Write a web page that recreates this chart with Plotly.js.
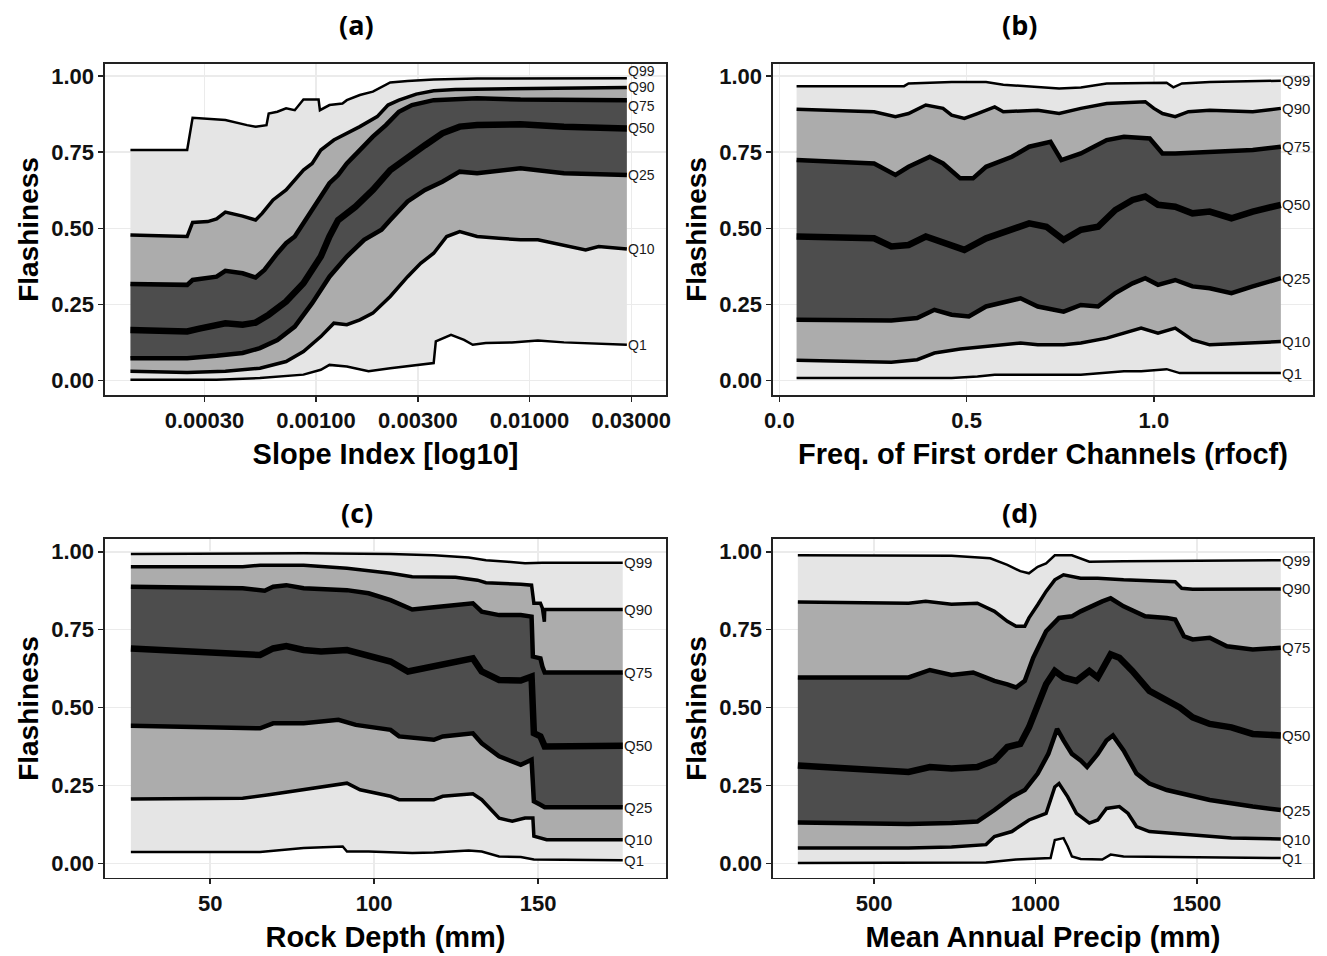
<!DOCTYPE html>
<html>
<head>
<meta charset="utf-8">
<script src="https://cdn.plot.ly/plotly-3.0.1.min.js"></script>
<style>html,body{margin:0;padding:0;background:#fff;}#chart{width:1327px;height:956px;}</style>
</head>
<body>
<div id="chart"></div>
<script>
// ---------- labels ----------
const quantileLabels = ['Q1', 'Q10', 'Q25', 'Q50', 'Q75', 'Q90', 'Q99'];
const panelTitles = ['(a)', '(b)', '(c)', '(d)'];
const xTitles = ['Slope Index [log10]', 'Freq. of First order Channels (rfocf)', 'Rock Depth (mm)', 'Mean Annual Precip (mm)'];
const yTitle = 'Flashiness';
const yTickVals = [0, 0.25, 0.5, 0.75, 1];
const slopeTickVals = [0.0003, 0.001, 0.003, 0.01, 0.03];
const slopeTickText = ['0.00030', '0.00100', '0.00300', '0.01000', '0.03000'];
const rfocfTickVals = [0, 0.5, 1.0];
const rockTickVals = [50, 100, 150];
const precipTickVals = [500, 1000, 1500];

// ---------- panel (a): Slope Index ----------
const aX1 = [0.000135, 0.000342, 0.000546, 0.000873, 0.001053, 0.001156, 0.001394, 0.001762, 0.002227, 0.003558, 0.003642, 0.004291, 0.004939, 0.005424, 0.006243, 0.00827, 0.010952, 0.014506, 0.02861];
const aQ1 = [0.002, 0.002, 0.008, 0.019, 0.035, 0.051, 0.046, 0.030, 0.040, 0.057, 0.128, 0.150, 0.133, 0.117, 0.123, 0.125, 0.131, 0.125, 0.117];
const aX10 = [0.000135, 0.000249, 0.000376, 0.000546, 0.000724, 0.000873, 0.001053, 0.001212, 0.001394, 0.001604, 0.001846, 0.002227, 0.002686, 0.003092, 0.003558, 0.004095, 0.004713, 0.005685, 0.007185, 0.009079, 0.010952, 0.014506, 0.018335, 0.0211, 0.02861];
const aQ10 = [0.030, 0.026, 0.030, 0.040, 0.062, 0.095, 0.144, 0.188, 0.183, 0.199, 0.221, 0.276, 0.341, 0.385, 0.418, 0.473, 0.489, 0.473, 0.467, 0.462, 0.462, 0.445, 0.429, 0.440, 0.432];
const aX25 = [0.000135, 0.000249, 0.000342, 0.000453, 0.000546, 0.000659, 0.000795, 0.000959, 0.001156, 0.001394, 0.001681, 0.002027, 0.002227, 0.002686, 0.00324, 0.003907, 0.004713, 0.005685, 0.009079, 0.014506, 0.02861];
const aQ25 = [0.073, 0.073, 0.081, 0.090, 0.106, 0.133, 0.177, 0.254, 0.341, 0.407, 0.462, 0.495, 0.527, 0.588, 0.626, 0.653, 0.686, 0.681, 0.697, 0.681, 0.675];
const aX50 = [0.000135, 0.000249, 0.000284, 0.000376, 0.000453, 0.000521, 0.0006, 0.000724, 0.000873, 0.001053, 0.001156, 0.001269, 0.001531, 0.001846, 0.002227, 0.002686, 0.00324, 0.003907, 0.004713, 0.005685, 0.009079, 0.014506, 0.02861];
const aQ50 = [0.166, 0.161, 0.170, 0.188, 0.183, 0.190, 0.216, 0.259, 0.319, 0.407, 0.473, 0.527, 0.571, 0.626, 0.691, 0.735, 0.773, 0.812, 0.834, 0.839, 0.842, 0.834, 0.828];
const aX75 = [0.000135, 0.000249, 0.000264, 0.000342, 0.000376, 0.000453, 0.000521, 0.000573, 0.000659, 0.000724, 0.000795, 0.000873, 0.000959, 0.001053, 0.001156, 0.001269, 0.001394, 0.001604, 0.001846, 0.002125, 0.002445, 0.002815, 0.003558, 0.005685, 0.009079, 0.02861];
const aQ75 = [0.317, 0.314, 0.330, 0.341, 0.360, 0.352, 0.338, 0.363, 0.418, 0.451, 0.473, 0.516, 0.560, 0.604, 0.648, 0.675, 0.713, 0.757, 0.801, 0.839, 0.883, 0.905, 0.921, 0.927, 0.923, 0.921];
const aX90 = [0.000135, 0.000249, 0.000264, 0.000311, 0.000342, 0.000376, 0.000453, 0.000521, 0.000559, 0.000629, 0.000724, 0.000795, 0.000873, 0.000959, 0.001053, 0.001212, 0.001394, 0.001604, 0.001935, 0.002175, 0.002445, 0.00295, 0.003558, 0.004498, 0.02861];
const aQ90 = [0.478, 0.473, 0.519, 0.522, 0.531, 0.553, 0.540, 0.527, 0.549, 0.593, 0.626, 0.659, 0.691, 0.713, 0.757, 0.790, 0.812, 0.834, 0.867, 0.905, 0.921, 0.941, 0.952, 0.956, 0.963];
const aX99 = [0.000135, 0.000249, 0.000264, 0.000376, 0.000475, 0.000521, 0.000586, 0.0006, 0.000659, 0.000724, 0.000795, 0.000873, 0.001028, 0.001043, 0.001156, 0.00133, 0.001394, 0.001604, 0.001846, 0.002125, 0.002227, 0.002686, 0.003558, 0.005685, 0.02861];
const aQ99 = [0.757, 0.757, 0.863, 0.856, 0.839, 0.834, 0.839, 0.877, 0.883, 0.894, 0.888, 0.923, 0.923, 0.888, 0.905, 0.910, 0.921, 0.938, 0.949, 0.970, 0.979, 0.984, 0.989, 0.992, 0.993];

// ---------- panel (b): rfocf ----------
const bX1 = [0.046, 0.460, 0.529, 0.575, 0.690, 0.805, 0.920, 0.966, 1.034, 1.069, 1.339];
const bQ1 = [0.008, 0.008, 0.013, 0.019, 0.019, 0.019, 0.030, 0.030, 0.037, 0.024, 0.024];
const bX10 = [0.046, 0.299, 0.368, 0.414, 0.483, 0.552, 0.644, 0.690, 0.759, 0.805, 0.874, 0.966, 1.011, 1.057, 1.103, 1.149, 1.264, 1.339];
const bQ10 = [0.066, 0.060, 0.068, 0.090, 0.103, 0.112, 0.123, 0.117, 0.117, 0.123, 0.139, 0.172, 0.155, 0.172, 0.133, 0.117, 0.123, 0.128];
const bX25 = [0.046, 0.299, 0.368, 0.414, 0.460, 0.506, 0.552, 0.644, 0.690, 0.759, 0.805, 0.851, 0.897, 0.943, 0.977, 1.011, 1.057, 1.103, 1.149, 1.207, 1.264, 1.339];
const bQ25 = [0.199, 0.197, 0.205, 0.232, 0.216, 0.210, 0.243, 0.270, 0.243, 0.226, 0.248, 0.243, 0.287, 0.319, 0.336, 0.314, 0.330, 0.309, 0.303, 0.287, 0.309, 0.336];
const bX50 = [0.046, 0.253, 0.299, 0.345, 0.391, 0.437, 0.494, 0.552, 0.609, 0.667, 0.713, 0.759, 0.805, 0.851, 0.897, 0.943, 0.977, 1.011, 1.057, 1.103, 1.149, 1.207, 1.264, 1.339];
const bQ50 = [0.473, 0.467, 0.440, 0.445, 0.473, 0.451, 0.429, 0.467, 0.489, 0.516, 0.505, 0.462, 0.495, 0.505, 0.560, 0.593, 0.604, 0.577, 0.571, 0.549, 0.555, 0.533, 0.555, 0.577];
const bX75 = [0.046, 0.253, 0.310, 0.345, 0.402, 0.437, 0.483, 0.517, 0.552, 0.621, 0.667, 0.724, 0.753, 0.805, 0.874, 0.920, 0.989, 1.023, 1.057, 1.149, 1.264, 1.339];
const bQ75 = [0.724, 0.713, 0.675, 0.702, 0.735, 0.713, 0.664, 0.664, 0.702, 0.735, 0.768, 0.784, 0.724, 0.746, 0.790, 0.801, 0.795, 0.746, 0.746, 0.752, 0.757, 0.768];
const bX90 = [0.046, 0.253, 0.310, 0.345, 0.391, 0.437, 0.460, 0.494, 0.529, 0.575, 0.598, 0.690, 0.747, 0.805, 0.874, 0.977, 1.000, 1.023, 1.057, 1.092, 1.149, 1.264, 1.339];
const bQ90 = [0.891, 0.883, 0.867, 0.877, 0.905, 0.894, 0.872, 0.861, 0.877, 0.899, 0.883, 0.888, 0.877, 0.894, 0.910, 0.916, 0.894, 0.877, 0.867, 0.883, 0.888, 0.883, 0.894];
const bX99 = [0.046, 0.333, 0.345, 0.460, 0.552, 0.598, 0.747, 0.805, 0.874, 1.034, 1.052, 1.075, 1.149, 1.339];
const bQ99 = [0.967, 0.967, 0.976, 0.981, 0.981, 0.972, 0.959, 0.963, 0.976, 0.978, 0.963, 0.976, 0.981, 0.985];

// ---------- panel (c): Rock Depth ----------
const cX1 = [25.8, 65.2, 78.5, 90.4, 91.7, 98.3, 111.6, 118.2, 128.8, 132.8, 138.1, 144.7, 148.7, 175.8];
const cQ1 = [0.037, 0.037, 0.050, 0.055, 0.039, 0.039, 0.034, 0.036, 0.042, 0.039, 0.023, 0.021, 0.013, 0.011];
const cX10 = [25.8, 59.9, 67.9, 78.5, 89.1, 91.7, 95.7, 105.0, 107.6, 118.2, 120.9, 130.1, 132.8, 138.1, 142.1, 146.0, 148.4, 148.7, 152.6, 175.8];
const cQ10 = [0.207, 0.210, 0.221, 0.237, 0.253, 0.258, 0.237, 0.216, 0.205, 0.205, 0.216, 0.224, 0.205, 0.146, 0.136, 0.146, 0.146, 0.088, 0.077, 0.077];
const cX25 = [25.8, 65.2, 69.2, 78.5, 89.1, 94.4, 105.0, 107.6, 118.2, 120.9, 130.1, 132.8, 138.1, 144.7, 148.0, 148.7, 150.7, 152.0, 175.8];
const cQ25 = [0.442, 0.434, 0.450, 0.450, 0.461, 0.445, 0.429, 0.408, 0.397, 0.408, 0.418, 0.386, 0.344, 0.317, 0.333, 0.200, 0.189, 0.181, 0.181];
const cX50 = [25.8, 65.2, 69.2, 73.2, 78.5, 83.8, 91.7, 98.3, 105.0, 110.3, 118.2, 124.8, 130.1, 132.8, 138.1, 144.7, 148.0, 148.7, 150.7, 152.0, 175.8];
const cQ50 = [0.690, 0.669, 0.690, 0.698, 0.685, 0.680, 0.685, 0.669, 0.648, 0.616, 0.632, 0.645, 0.658, 0.616, 0.589, 0.587, 0.600, 0.418, 0.408, 0.376, 0.378];
const cX75 = [25.8, 59.9, 66.6, 69.2, 73.2, 78.5, 91.7, 98.3, 105.0, 111.6, 118.2, 124.8, 130.1, 132.8, 138.1, 144.7, 148.0, 148.4, 150.7, 151.3, 152.0, 175.8];
const cQ75 = [0.888, 0.883, 0.875, 0.888, 0.893, 0.883, 0.877, 0.867, 0.845, 0.815, 0.822, 0.829, 0.835, 0.808, 0.797, 0.797, 0.792, 0.664, 0.658, 0.632, 0.613, 0.613];
const cX90 = [25.8, 59.9, 65.2, 78.5, 91.7, 105.0, 111.6, 124.8, 131.5, 134.1, 144.7, 148.0, 148.7, 150.7, 151.3, 151.9, 152.0, 152.3, 175.8];
const cQ90 = [0.952, 0.952, 0.957, 0.957, 0.947, 0.931, 0.920, 0.918, 0.909, 0.901, 0.896, 0.893, 0.835, 0.835, 0.819, 0.776, 0.815, 0.815, 0.815];
const cX99 = [25.8, 78.5, 105.0, 118.2, 128.8, 134.1, 140.7, 146.0, 151.3, 175.8];
const cQ99 = [0.993, 0.995, 0.993, 0.989, 0.982, 0.973, 0.968, 0.963, 0.965, 0.965];

// ---------- panel (d): Mean Annual Precip ----------
const dX1 = [264, 847, 940, 1047, 1060, 1087, 1100, 1113, 1140, 1207, 1233, 1273, 1760];
const dQ1 = [0.002, 0.004, 0.013, 0.018, 0.076, 0.082, 0.055, 0.023, 0.015, 0.013, 0.029, 0.023, 0.018];
const dX10 = [264, 607, 740, 847, 873, 927, 980, 1033, 1060, 1073, 1100, 1127, 1167, 1193, 1220, 1260, 1287, 1313, 1353, 1473, 1607, 1760];
const dQ10 = [0.050, 0.050, 0.053, 0.061, 0.087, 0.103, 0.140, 0.161, 0.246, 0.257, 0.214, 0.161, 0.130, 0.140, 0.177, 0.183, 0.161, 0.119, 0.103, 0.092, 0.082, 0.079];
const dX25 = [264, 607, 740, 820, 873, 927, 967, 1007, 1040, 1067, 1087, 1113, 1140, 1160, 1193, 1220, 1240, 1273, 1313, 1353, 1407, 1473, 1540, 1673, 1760];
const dQ25 = [0.132, 0.127, 0.130, 0.135, 0.172, 0.214, 0.236, 0.289, 0.352, 0.432, 0.395, 0.352, 0.331, 0.310, 0.352, 0.395, 0.411, 0.363, 0.289, 0.257, 0.236, 0.220, 0.204, 0.183, 0.172];
const dX50 = [264, 607, 673, 740, 820, 873, 913, 953, 980, 1007, 1033, 1060, 1087, 1127, 1167, 1193, 1220, 1233, 1260, 1300, 1353, 1407, 1447, 1487, 1540, 1607, 1673, 1760];
const dQ50 = [0.315, 0.294, 0.310, 0.305, 0.310, 0.331, 0.374, 0.384, 0.437, 0.501, 0.575, 0.618, 0.597, 0.586, 0.618, 0.597, 0.650, 0.671, 0.660, 0.618, 0.554, 0.522, 0.501, 0.469, 0.448, 0.437, 0.416, 0.411];
const dX75 = [264, 607, 673, 740, 807, 873, 913, 940, 967, 993, 1033, 1073, 1113, 1140, 1207, 1233, 1273, 1340, 1407, 1433, 1460, 1487, 1540, 1593, 1673, 1760];
const dQ75 = [0.597, 0.597, 0.621, 0.605, 0.613, 0.586, 0.575, 0.565, 0.586, 0.660, 0.745, 0.788, 0.793, 0.809, 0.841, 0.851, 0.825, 0.793, 0.788, 0.783, 0.729, 0.719, 0.724, 0.697, 0.687, 0.692];
const dX90 = [264, 607, 660, 740, 820, 873, 913, 940, 967, 980, 1007, 1033, 1060, 1087, 1140, 1193, 1273, 1340, 1433, 1453, 1487, 1760];
const dQ90 = [0.839, 0.835, 0.841, 0.832, 0.835, 0.809, 0.777, 0.761, 0.761, 0.788, 0.830, 0.873, 0.910, 0.926, 0.915, 0.915, 0.910, 0.907, 0.904, 0.883, 0.880, 0.881];
const dX99 = [264, 740, 860, 913, 953, 980, 1007, 1033, 1060, 1113, 1167, 1273, 1760];
const dQ99 = [0.989, 0.987, 0.979, 0.958, 0.938, 0.931, 0.952, 0.963, 0.989, 0.989, 0.968, 0.970, 0.973];

// ---------- styling ----------
const bandColors = ['#e5e5e5', '#acacac', '#4d4d4d', '#4d4d4d', '#acacac', '#e5e5e5'];
const lineWidths = [2.5, 3.5, 4.5, 6.5, 4.5, 3.5, 2.5];
const FONT = 'Liberation Sans, Arial, sans-serif';

const panels = [
  {xs: [aX1, aX10, aX25, aX50, aX75, aX90, aX99], ys: [aQ1, aQ10, aQ25, aQ50, aQ75, aQ90, aQ99], xa: 'x', ya: 'y', log: true, shifts: [0, 0, 0, 0, -6, 0, 7], lsize: 14},
  {xs: [bX1, bX10, bX25, bX50, bX75, bX90, bX99], ys: [bQ1, bQ10, bQ25, bQ50, bQ75, bQ90, bQ99], xa: 'x2', ya: 'y2', log: false, shifts: [0, 0, 0, 0, 0, 0, 0], lsize: 15},
  {xs: [cX1, cX10, cX25, cX50, cX75, cX90, cX99], ys: [cQ1, cQ10, cQ25, cQ50, cQ75, cQ90, cQ99], xa: 'x3', ya: 'y3', log: false, shifts: [0, 0, 0, 0, 0, 0, 0], lsize: 15},
  {xs: [dX1, dX10, dX25, dX50, dX75, dX90, dX99], ys: [dQ1, dQ10, dQ25, dQ50, dQ75, dQ90, dQ99], xa: 'x4', ya: 'y4', log: false, shifts: [0, 0, 0, 0, 0, 0, 0], lsize: 15}
];

const traces = [];
const annotations = [];
panels.forEach(p => {
  // fills (bands between consecutive quantiles)
  for (let i = 0; i < 7; i++) {
    traces.push({
      type: 'scatter', mode: 'lines', x: p.xs[i], y: p.ys[i], xaxis: p.xa, yaxis: p.ya,
      line: {width: 0, color: 'rgba(0,0,0,0)'},
      fill: i === 0 ? 'none' : 'tonexty',
      fillcolor: i === 0 ? undefined : bandColors[i - 1],
      hoverinfo: 'skip', showlegend: false
    });
  }
  // quantile lines on top
  for (let i = 0; i < 7; i++) {
    traces.push({
      type: 'scatter', mode: 'lines', x: p.xs[i], y: p.ys[i], xaxis: p.xa, yaxis: p.ya,
      line: {width: lineWidths[i], color: '#000'},
      name: quantileLabels[i], showlegend: false
    });
    const xl = p.xs[i][p.xs[i].length - 1];
    const yl = p.ys[i][p.ys[i].length - 1];
    annotations.push({
      x: p.log ? Math.log10(xl) : xl, y: yl, xref: p.xa, yref: p.ya,
      text: quantileLabels[i], showarrow: false, xanchor: 'left', yanchor: 'middle',
      yshift: p.shifts[i], borderpad: 0,
      font: {family: FONT, size: p.lsize, color: '#1a1a1a'}
    });
  }
});

const titlePos = [[0.269, 0.974], [0.768, 0.974], [0.269, 0.4644], [0.768, 0.4644]];
panelTitles.forEach((t, i) => {
  annotations.push({
    text: t, xref: 'paper', yref: 'paper', x: titlePos[i][0], y: titlePos[i][1],
    xanchor: 'center', yanchor: 'middle', showarrow: false,
    font: {family: 'Open Sans, sans-serif', size: 27, weight: 'bold', color: '#000'}
  });
});

function axisBase() {
  return {
    showline: true, mirror: true, linecolor: '#222', linewidth: 1.5,
    ticks: 'outside', ticklen: 5, tickwidth: 1.5, tickcolor: '#222',
    showgrid: true, gridcolor: '#ebebeb', gridwidth: 1.5, zeroline: false,
    tickfont: {family: FONT, size: 22, weight: 'bold', color: '#111'},
    fixedrange: true
  };
}
function xAxis(i, extra) {
  return Object.assign(axisBase(), {
    title: {text: xTitles[i], font: {family: FONT, size: 29, weight: 'bold', color: '#000'}, standoff: 12}
  }, extra);
}
function yAxis(extra) {
  return Object.assign(axisBase(), {
    tickvals: yTickVals, tickformat: '.2f', range: [-0.048, 1.04],
    title: {text: yTitle, font: {family: FONT, size: 28, weight: 'bold', color: '#000'}, standoff: 4}
  }, extra);
}

const colL = [0.0791, 0.5019], colR = [0.5825, 0.9895];
const rowT = [0.5868, 0.9331], rowB = [0.0816, 0.4362];

const layout = {
  width: 1327, height: 956,
  margin: {l: 0, r: 0, t: 0, b: 0},
  paper_bgcolor: '#fff', plot_bgcolor: '#fff',
  showlegend: false,
  font: {family: FONT, color: '#000'},
  xaxis: xAxis(0, {type: 'log', domain: colL, anchor: 'y', range: [-3.989, -1.36], tickvals: slopeTickVals, ticktext: slopeTickText}),
  yaxis: yAxis({domain: rowT, anchor: 'x'}),
  xaxis2: xAxis(1, {domain: colR, anchor: 'y2', range: [-0.017, 1.425], tickvals: rfocfTickVals, tickformat: '.1f'}),
  yaxis2: yAxis({domain: rowT, anchor: 'x2'}),
  xaxis3: xAxis(2, {domain: colL, anchor: 'y3', range: [17.9, 189], tickvals: rockTickVals}),
  yaxis3: yAxis({domain: rowB, anchor: 'x3', range: [-0.046, 1.041]}),
  xaxis4: xAxis(3, {domain: colR, anchor: 'y4', range: [187, 1860], tickvals: precipTickVals}),
  yaxis4: yAxis({domain: rowB, anchor: 'x4', range: [-0.046, 1.041]}),
  annotations: annotations
};

Plotly.newPlot('chart', traces, layout, {displayModeBar: false, staticPlot: true});
</script>
</body>
</html>
